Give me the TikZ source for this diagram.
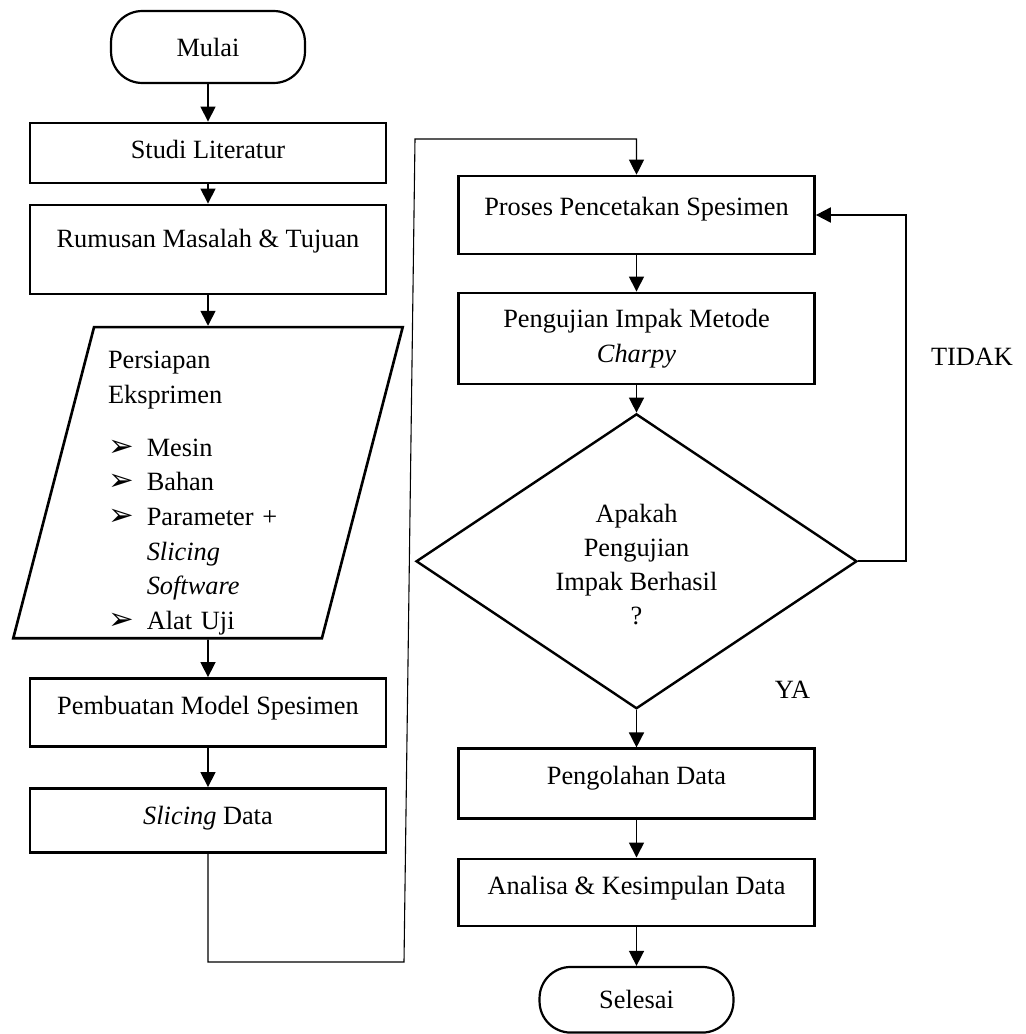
\documentclass[tikz,border=0pt]{standalone}
\usepackage{fontspec}
\setmainfont{Liberation Serif}
\newfontfamily\panahfont{DejaVu Sans}
\usepackage{tikz}
\usetikzlibrary{arrows.meta}
\usetikzlibrary{shapes.geometric, positioning}

\newcommand{\butir}{\makebox[0.62cm][l]{\panahfont\fontsize{14}{10}\selectfont ➢}}
\newcommand{\sambung}{\hspace*{0.62cm}}

\begin{document}
\begin{tikzpicture}[x=0.016cm,y=-0.016cm,node distance=0.6cm,
  >={Triangle[length=0.24cm,width=0.24cm]},
  every node/.style={font=\fontsize{12}{14.5}\selectfont},
  kotak/.style={draw,line width=1.2pt,minimum width=5.7cm,inner ysep=0pt,text height=0.576cm},
  kotakdua/.style={draw,line width=1.2pt,minimum width=5.7cm,minimum height=1.456cm,align=center,font=\fontsize{12}{16}\selectfont},
  ujung/.style={draw,line width=1pt,rounded corners=0.5cm,minimum width=3.104cm,minimum height=1.152cm},
  keputusan/.style={draw,diamond,aspect=1.5,line width=1.1pt,minimum width=7.056cm,minimum height=4.72cm,inner sep=0pt,align=center,font=\fontsize{12}{15.4}\selectfont},
  masukan/.style={draw,trapezium,trapezium left angle=76,trapezium right angle=104,trapezium stretches=true,line width=1.2pt,minimum width=6.24cm,minimum height=4.98cm,inner ysep=0pt,text width=3.2cm,align=left,font=\fontsize{12}{15.8}\selectfont},
  panah/.style={->,line width=0.7pt},
  jalur/.style={->,line width=0.5pt}]
\useasboundingbox (0,0) rectangle (1025,1034);

% kolom kiri
\node[ujung] (mulai) at (208,47) {Mulai};
\node[kotak,text depth=0.384cm] (studi) [below=of mulai] {Studi Literatur};
\node[kotak,text height=0.688cm,text depth=0.736cm] (rumusan) [below=0.31cm of studi] {Rumusan Masalah \& Tujuan};
\node[masukan] (persiapan) [below=0.49cm of rumusan] {\rule{0pt}{0.62cm}Persiapan\\Eksprimen\\[0.288cm]\butir Mesin\\\butir Bahan\\\butir Parameter +\\\sambung\textit{Slicing}\\\sambung\textit{Software}\\\butir Alat Uji};
\node[kotak,text depth=0.512cm] (pembuatan) [below=0.6cm of persiapan] {Pembuatan Model Spesimen};
\node[kotak,text depth=0.448cm] (slicing) [below=0.63cm of pembuatan] {\textit{Slicing} Data};

% kolom kanan
\node[kotak,text height=0.624cm,text depth=0.624cm] (proses) at (636.5,215) {Proses Pencetakan Spesimen};
\node[kotakdua] (pengujian) [below=0.58cm of proses] {Pengujian Impak Metode\\\textit{Charpy}};
\node[keputusan] (cek) [below=0.44cm of pengujian] {\rule{0pt}{0.4cm}Apakah\\Pengujian\\Impak Berhasil\\?};
\node[kotak,text depth=0.544cm] (pengolahan) [below=of cek] {Pengolahan Data};
\node[kotak,text depth=0.496cm] (analisa) [below=of pengolahan] {Analisa \& Kesimpulan Data};
\node[ujung,minimum height=1.05cm] (selesai) [below=0.62cm of analisa] {Selesai};

\node[anchor=base] (tidak) at (972,365) {TIDAK};
\node[anchor=base] (ya) at (792.5,698) {YA};

\coordinate (belokA) at (404,962);
\coordinate (belokB) at (415,139);
\coordinate (belokC) at (906,215);

\path[panah] (mulai) edge (studi)
	(studi) edge (rumusan)
	(rumusan) edge (persiapan)
	(persiapan) edge (pembuatan)
	(pembuatan) edge (slicing)
	(proses) edge (pengujian)
	(pengujian) edge (cek)
	(cek) edge (pengolahan)
	(pengolahan) edge (analisa)
	(analisa) edge (selesai);

\draw[jalur] (slicing.south) |- (belokA) -- (belokB) -| (proses.north);
\draw[panah,line width=0.9pt] (cek.east) -| (belokC) -- (proses.east);
\end{tikzpicture}
\end{document}
